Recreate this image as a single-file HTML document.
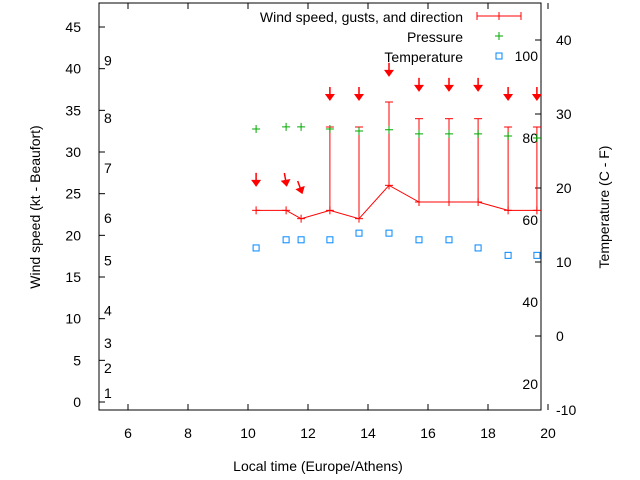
<!DOCTYPE html>
<html><head><meta charset="utf-8"><style>
body{margin:0;background:#fff;width:640px;height:480px;overflow:hidden}
svg{font-family:"Liberation Sans",sans-serif;font-size:14px;display:block}
</style></head><body>
<svg id="c" width="640" height="480">
<g>
<text x="463" y="22" text-anchor="end">Wind speed, gusts, and direction</text>
<path d="M477 16H521M477 12V20M521 12V20M499 12V20" stroke="#f00" fill="none"/>
<text x="463" y="42" text-anchor="end">Pressure</text>
<path d="M495 36H503M499 32V40" stroke="#0a0" fill="none"/>
<text x="463" y="62" text-anchor="end">Temperature</text>
<rect x="496" y="53" width="6" height="6" fill="none" stroke="#08f"/>
</g>
<text x="318" y="471" text-anchor="middle">Local time (Europe/Athens)</text>
<text transform="translate(40 207) rotate(-90)" text-anchor="middle">Wind speed (kt - Beaufort)</text>
<text transform="translate(609 207) rotate(-90)" text-anchor="middle">Temperature (C - F)</text>
</svg>
<script>
const times=[10.27,11.27,11.77,12.73,13.7,14.7,15.7,16.7,17.67,18.67,19.63];
const wind=[23,23,22,23,22,26,24,24,24,23,23];
const gusts=[null,null,null,33,33,36,34,34,34,33,33];
const arrowLevel=[26.3,26.3,25.4,36.6,36.6,39.5,37.7,37.7,37.7,36.6,36.6];
const windDir=[0,10,20,0,0,0,0,0,0,0,0];
const pressure=[82.2,82.7,82.7,82.2,81.7,82.0,81.0,81.0,81.0,80.5,80.0];
const temperature=[11.9,13,13,13,13.9,13.9,13,13,11.9,10.9,10.9];
const xTicks=[6,8,10,12,14,16,18,20];
const yTicks=[0,5,10,15,20,25,30,35,40,45];
const y2Ticks=[-10,0,10,20,30,40];
const beaufortLabels=["1","2","3","4","5","6","7","8","9"];
const beaufortY=[1.1,4.1,7.1,11,17,22.1,28.1,34.1,41];
const pressureLabels=[20,40,60,80,100];

const L=99,R=541,T=3,B=410;
const X=t=>98+30*(t-5);
const Y=v=>402-8.333*v;
const Y2=v=>336-7.4*v;
const YP=p=>56+(100-p)*4.1;
const svg=document.getElementById('c');
const NS='http://www.w3.org/2000/svg';
function el(tag,attrs,parent){const e=document.createElementNS(NS,tag);for(const k in attrs)e.setAttribute(k,attrs[k]);(parent||svg).appendChild(e);return e;}

const frame=el('rect',{x:L,y:T,width:R-L,height:B-T,fill:'none',stroke:'#000'});



xTicks.forEach(t=>{
  const x=X(t);
  el('line',{x1:x,y1:B,x2:x,y2:B-6,stroke:'#000'});
  el('line',{x1:x,y1:T,x2:x,y2:T+6,stroke:'#000'});
  const tx=el('text',{x:x,y:B+28,'text-anchor':'middle'});tx.textContent=t;
  
  
});
yTicks.forEach(v=>{
  const y=Y(v);
  el('line',{x1:L,y1:y,x2:L+6,y2:y,stroke:'#000'});
  const tx=el('text',{x:81,y:y+5,'text-anchor':'end'});tx.textContent=v;
  
  
});
y2Ticks.forEach(v=>{
  const y=Y2(v);
  el('line',{x1:R,y1:y,x2:R-6,y2:y,stroke:'#000'});
  const tx=el('text',{x:556,y:y+5,'text-anchor':'start'});tx.textContent=v;
  
  
});
beaufortLabels.forEach((s,i)=>{
  const tx=el('text',{x:104,y:Y(beaufortY[i])+5});tx.textContent=s;
  
  
});
pressureLabels.forEach(p=>{
  const tx=el('text',{x:538,y:YP(p)+5,'text-anchor':'end'});tx.textContent=p;
  
  
});

const pts=times.map((t,i)=>X(t)+','+Y(wind[i])).join(' ');
const wl=el('polyline',{points:pts,fill:'none',stroke:'#f00'});


times.forEach((t,i)=>{
  const x=X(t),y=Y(wind[i]);
  el('line',{x1:x-4,y1:y,x2:x+4,y2:y,stroke:'#f00'});
  el('line',{x1:x,y1:y-4,x2:x,y2:y+4,stroke:'#f00'});
  if(gusts[i]!==null){
    const g=el('line',{x1:x,y1:y,x2:x,y2:Y(gusts[i]),stroke:'#f00'});
    
    
    el('line',{x1:x-4,y1:Y(gusts[i]),x2:x+4,y2:Y(gusts[i]),stroke:'#f00'});
  }
  const ay=Y(arrowLevel[i]);
  const grp=el('g',{transform:`rotate(${-windDir[i]} ${x} ${ay})`});
  
  
  el('line',{x1:x,y1:ay-10,x2:x,y2:ay,stroke:'#f00','stroke-width':1.5},grp);
  el('polygon',{points:`${x-5},${ay-3} ${x+5},${ay-3} ${x},${ay+4}`,fill:'#f00'},grp);
});
pressure.forEach((p,i)=>{
  const x=X(times[i]),y=YP(p);
  const g=el('path',{d:`M${x-4} ${y}H${x+4}M${x} ${y-4}V${y+4}`,stroke:'#0a0'});
  
  
});
temperature.forEach((v,i)=>{
  const r=el('rect',{x:X(times[i])-3,y:Y2(v)-3,width:6,height:6,fill:'none',stroke:'#08f'});
  
  
});
</script>
</body></html>
